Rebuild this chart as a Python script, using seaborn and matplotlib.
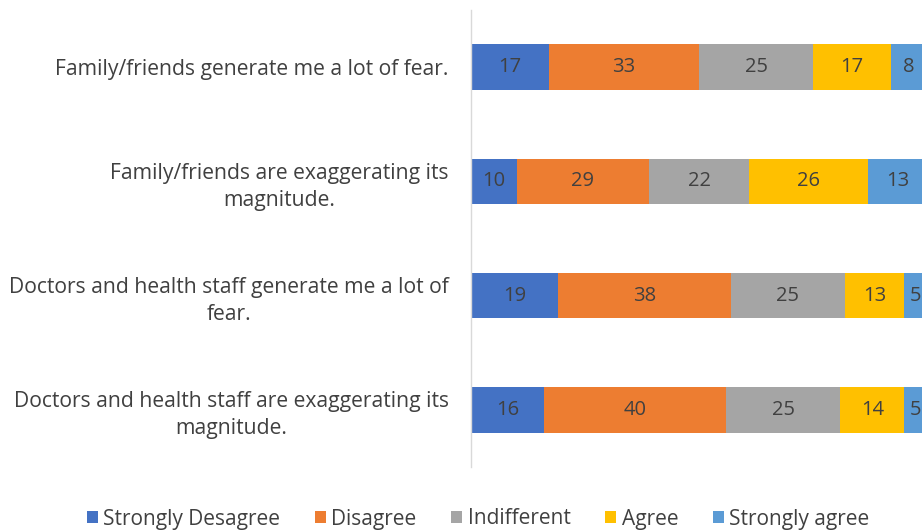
import matplotlib
matplotlib.use("Agg")
import matplotlib.pyplot as plt
import seaborn as sns
import pandas as pd
import numpy as np
from matplotlib.patches import Patch

categories = [
    "Family/friends generate me a lot of fear.",
    "Family/friends are exaggerating its\nmagnitude.",
    "Doctors and health staff generate me a lot of\nfear.",
    "Doctors and health staff are exaggerating its\nmagnitude.",
]
series_names = ["Strongly Desagree", "Disagree", "Indifferent", "Agree", "Strongly agree"]
strongly_disagree = [17, 10, 19, 16]
disagree = [33, 29, 38, 40]
indifferent = [25, 22, 25, 25]
agree = [17, 26, 13, 14]
strongly_agree = [8, 13, 5, 5]
colors = ["#4472C4", "#ED7D31", "#A5A5A5", "#FFC000", "#5B9BD5"]

sns.set_theme(style="white")
plt.rcParams['font.family'] = ['Open Sans', 'DejaVu Sans']

series = [strongly_disagree, disagree, indifferent, agree, strongly_agree]
df = pd.DataFrame({"category": categories})
cum = np.zeros(len(categories))
cums = []
for name, vals in zip(series_names, series):
    cum = cum + np.array(vals)
    cums.append(cum.copy())
    df[name] = cum.copy()

fig = plt.figure(figsize=(9.22, 5.30), dpi=100)
ax = fig.add_axes([471/922, 1-467/530, 1-471/922, (467-10)/530])

for i in reversed(range(len(series_names))):
    sns.barplot(data=df, x=series_names[i], y="category", color=colors[i],
                orient="h", width=0.4, ax=ax, saturation=1, edgecolor="none",
                order=categories)

for i, vals in enumerate(series):
    for j, v in enumerate(vals):
        ax.text(cums[i][j] - v/2, j, str(v), ha="center", va="center",
                fontsize=14.5, color="#404040")

ax.set_xlim(0, 98.9)
ax.set_ylim(3.5, -0.5)
ax.set_xlabel("")
ax.set_ylabel("")
ax.set_xticks([])
ax.tick_params(axis="y", length=0, pad=16, labelsize=15.2, labelcolor="#404040")
for lbl in ax.get_yticklabels():
    lbl.set_multialignment("center")
    lbl.set_linespacing(1.38)
for s in ["top", "right", "bottom"]:
    ax.spines[s].set_visible(False)
ax.spines["left"].set_color("#D9D9D9")
ax.spines["left"].set_linewidth(1.0)

handles = [Patch(facecolor=c, edgecolor="none") for c in colors]
fig.legend(handles, series_names, loc="center", bbox_to_anchor=(478/922, 1-519/530),
           ncol=5, frameon=False, fontsize=15, handlelength=0.55, handleheight=0.55,
           handletextpad=0.25, columnspacing=1.65, labelcolor="#404040")

fig.savefig("out.png", dpi=100)
